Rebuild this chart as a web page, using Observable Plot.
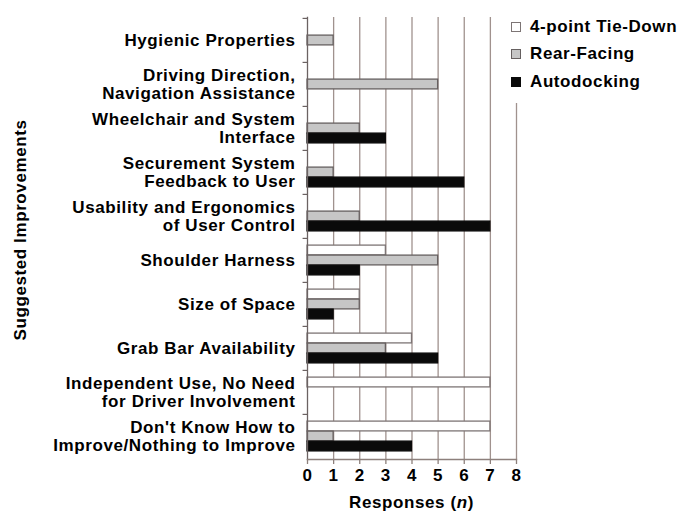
<!DOCTYPE html>
<html>
<head>
<meta charset="utf-8">
<script src="https://cdn.jsdelivr.net/npm/d3@7"></script>
<script src="https://cdn.jsdelivr.net/npm/@observablehq/plot@0.6"></script>
<style>
  body { margin: 0; background: #fff; }
  #wrap { position: relative; width: 683px; height: 512px; font-family: "Liberation Sans", Arial, sans-serif; font-weight: bold; color: #000; }
  #legend { position: absolute; left: 511px; top: 13px; width: 172px; background: #fff; padding-bottom: 7px; font-size: 17px; letter-spacing: 0.6px; }
  .row { display: flex; align-items: center; height: 27.5px; white-space: nowrap; }
  .sw { width: 8px; height: 8px; margin-right: 9px; box-sizing: content-box; }
  #xtitle { position: absolute; left: 307px; width: 209px; top: 492px; text-align: center; font-size: 17px; letter-spacing: 0.6px; line-height: 22px; }
  #ytitle { position: absolute; left: 21px; top: 230px; transform: translate(-50%, -50%) rotate(-90deg); white-space: nowrap; font-size: 17px; letter-spacing: 0.6px; line-height: 20px; }
</style>
</head>
<body>
<div id="wrap">
  <div id="chart"></div>
  <div id="legend"></div>
  <div id="xtitle">Responses (<i>n</i>)</div>
  <div id="ytitle"></div>
</div>
<script>
const categories = [
  "Hygienic Properties",
  "Driving Direction,\nNavigation Assistance",
  "Wheelchair and System\nInterface",
  "Securement System\nFeedback to User",
  "Usability and Ergonomics\nof User Control",
  "Shoulder Harness",
  "Size of Space",
  "Grab Bar Availability",
  "Independent Use, No Need\nfor Driver Involvement",
  "Don't Know How to\nImprove/Nothing to Improve"
];
const seriesNames = ["4-point Tie-Down", "Rear-Facing", "Autodocking"];
const tieDown     = [0, 0, 0, 0, 0, 3, 2, 4, 7, 7];
const rearFacing  = [1, 5, 2, 1, 2, 5, 2, 3, 0, 1];
const autodocking = [0, 0, 3, 6, 7, 2, 1, 5, 0, 4];
const xTicks = [0, 1, 2, 3, 4, 5, 6, 7, 8];
const yTitle = "Suggested Improvements";

const seriesValues = [tieDown, rearFacing, autodocking];
const seriesStyle = [
  {fill: "#ffffff", stroke: "#7d7575", dy: -10},
  {fill: "#c6c6c6", stroke: "#666060", dy: 0},
  {fill: "#0a0a0a", stroke: "#0a0a0a", dy: 10}
];

const rows = [];
seriesNames.forEach((s, si) => {
  categories.forEach((c, ci) => rows.push({series: s, si, category: c, value: seriesValues[si][ci]}));
});

const W = 683, H = 512, mL = 307, mR = 167, mT = 17, mB = 53;
const band = (H - mT - mB) / categories.length;
const inset = (band - 10) / 2;

const chart = Plot.plot({
  width: W,
  height: H,
  marginLeft: mL,
  marginRight: mR,
  marginTop: mT,
  marginBottom: mB,
  style: {fontFamily: "Liberation Sans, Arial, sans-serif", fontSize: "17px", fontWeight: "bold", letterSpacing: "0.6px", color: "#000", background: "#fff"},
  x: {domain: [0, 8]},
  y: {domain: categories, padding: 0},
  marks: [
    Plot.ruleX(xTicks.filter(d => d > 0), {stroke: "#a0928e", strokeWidth: 1.3}),
    ...seriesNames.map((s, si) => Plot.barX(rows.filter(r => r.si === si && r.value > 0), {
      y: "category",
      x: "value",
      fill: seriesStyle[si].fill,
      stroke: seriesStyle[si].stroke,
      strokeWidth: 1.3,
      insetTop: inset,
      insetBottom: inset,
      dy: seriesStyle[si].dy
    })),
    Plot.frame({anchor: "left", stroke: "#6b6262", strokeWidth: 1.3}),
    Plot.frame({anchor: "bottom", stroke: "#8d807c", strokeWidth: 1.3}),
    Plot.ruleY(categories, {y: d => d, x1: -0.17, x2: 0, dy: -band / 2, stroke: "#6b6262", strokeWidth: 1.2}),
    Plot.axisX({ticks: xTicks, tickFormat: d3.format("d"), tickSize: 5, tickPadding: 4, label: null, stroke: "#8d807c", strokeWidth: 1.3, fill: "#000"}),
    Plot.axisY({tickSize: 0, tickPadding: 12, label: null, lineHeight: 1.05, fill: "#000"})
  ]
});
document.getElementById("chart").appendChild(chart);
document.getElementById("ytitle").textContent = yTitle;

const legend = document.getElementById("legend");
seriesNames.forEach((s, si) => {
  const row = document.createElement("div");
  row.className = "row";
  const sw = document.createElement("span");
  sw.className = "sw";
  sw.style.background = seriesStyle[si].fill;
  sw.style.border = "1.3px solid " + seriesStyle[si].stroke;
  const label = document.createElement("span");
  label.textContent = s;
  row.appendChild(sw);
  row.appendChild(label);
  legend.appendChild(row);
});
</script>
</body>
</html>
